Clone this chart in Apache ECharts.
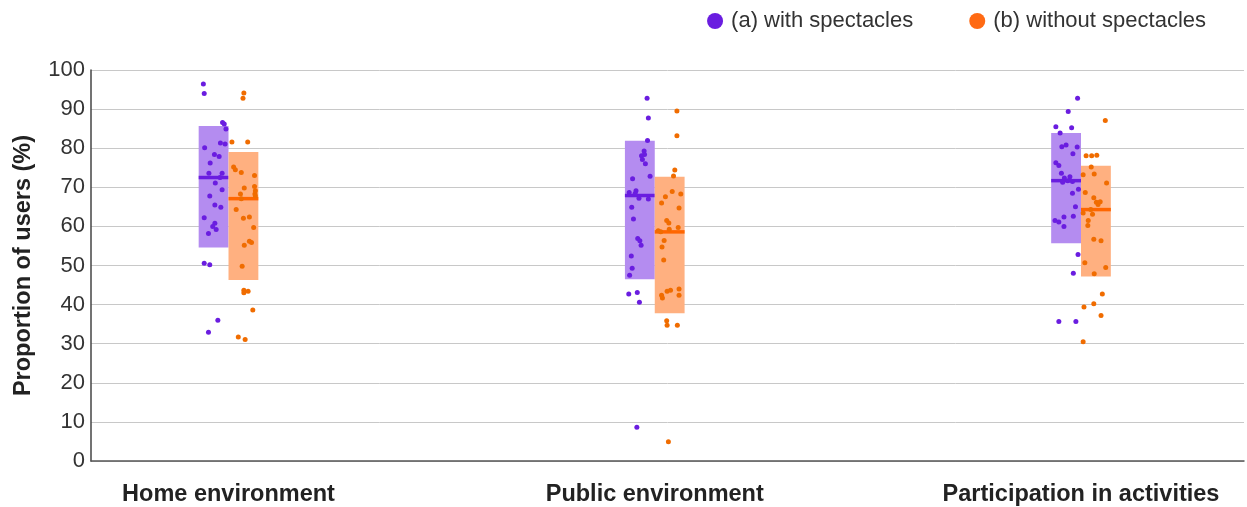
<!DOCTYPE html>
<html>
<head>
<meta charset="utf-8">
<script src="https://cdn.jsdelivr.net/npm/echarts@6/dist/echarts.min.js"></script>
<style>
html,body{margin:0;padding:0;background:#fff;}
#chart{width:1247px;height:507px;}
</style>
</head>
<body>
<div id="chart"></div>
<script>
const categories = ['Home environment', 'Public environment', 'Participation in activities'];
const seriesNames = ['(a) with spectacles', '(b) without spectacles'];
const yTicks = [0, 10, 20, 30, 40, 50, 60, 70, 80, 90, 100];

// Box summaries per category: [low, high, median]
const withLow = [54.6, 46.5, 55.7];
const withHigh = [85.7, 81.9, 83.9];
const withMedian = [72.5, 67.9, 71.7];
const withoutLow = [46.3, 37.8, 47.2];
const withoutHigh = [79.0, 72.7, 75.5];
const withoutMedian = [67.1, 58.6, 64.3];

// Individual points: [horizontal jitter (category units), value %]
const withHome = [[-0.059,96.4],[-0.057,94.0],[-0.014,86.6],[-0.010,86.2],[-0.006,84.9],[-0.019,81.3],[-0.008,81.1],[-0.056,80.1],[-0.033,78.4],[-0.022,77.9],[-0.043,76.2],[-0.046,73.6],[-0.015,73.6],[-0.020,72.5],[-0.031,71.1],[-0.015,69.4],[-0.044,67.8],[-0.032,65.5],[-0.018,64.9],[-0.057,62.2],[-0.032,60.8],[-0.037,60.0],[-0.029,59.2],[-0.047,58.2],[-0.057,50.6],[-0.044,50.2],[-0.025,36.0],[-0.047,32.9]];
const withoutHome = [[0.036,94.1],[0.034,92.8],[0.008,81.6],[0.045,81.6],[0.012,75.2],[0.016,74.5],[0.030,73.8],[0.061,73.0],[0.061,70.2],[0.037,69.8],[0.063,69.1],[0.062,68.3],[0.028,68.3],[0.063,67.8],[0.030,67.1],[0.018,64.3],[0.035,62.1],[0.049,62.4],[0.059,59.7],[0.049,56.2],[0.054,55.9],[0.037,55.2],[0.032,49.8],[0.036,43.7],[0.046,43.4],[0.036,43.0],[0.057,38.6],[0.023,31.7],[0.039,31.1]];
const withPublic = [[-0.018,92.8],[-0.015,87.7],[-0.017,82.0],[-0.025,79.3],[-0.024,78.4],[-0.031,78.1],[-0.029,77.1],[-0.022,76.0],[-0.011,72.8],[-0.052,72.2],[-0.044,69.1],[-0.060,68.7],[-0.046,68.4],[-0.037,67.2],[-0.015,67.0],[-0.054,64.9],[-0.050,61.9],[-0.040,56.9],[-0.035,56.3],[-0.032,55.2],[-0.055,52.4],[-0.053,49.3],[-0.059,47.5],[-0.061,42.7],[-0.041,43.1],[-0.036,40.6],[-0.042,8.6]];
const withoutPublic = [[0.052,89.5],[0.052,83.2],[0.047,74.4],[0.044,72.9],[0.041,68.9],[0.061,68.3],[0.025,67.6],[0.016,66.0],[0.057,64.7],[0.028,61.5],[0.033,60.9],[0.055,59.7],[0.034,59.3],[0.008,58.9],[0.014,58.6],[0.022,56.4],[0.017,54.7],[0.021,51.4],[0.057,44.0],[0.037,43.7],[0.029,43.4],[0.016,42.4],[0.057,42.4],[0.018,41.7],[0.028,35.9],[0.029,34.7],[0.053,34.7],[0.032,4.9]];
const withParticipation = [[-0.008,92.8],[-0.030,89.4],[-0.059,85.5],[-0.022,85.2],[-0.049,83.9],[-0.045,80.4],[-0.035,80.8],[-0.009,80.3],[-0.019,78.6],[-0.059,76.3],[-0.052,75.6],[-0.046,73.6],[-0.039,72.4],[-0.026,72.7],[-0.031,71.7],[-0.043,71.3],[-0.020,71.5],[-0.006,69.5],[-0.020,68.5],[-0.013,65.0],[-0.018,62.6],[-0.040,62.4],[-0.061,61.5],[-0.052,61.1],[-0.040,60.0],[-0.007,52.8],[-0.018,48.0],[-0.052,35.7],[-0.012,35.7]];
const withoutParticipation = [[0.057,87.1],[0.012,78.1],[0.025,78.1],[0.037,78.2],[0.024,75.2],[0.005,73.2],[0.031,73.4],[0.060,71.1],[0.010,68.7],[0.030,67.3],[0.036,66.2],[0.045,66.3],[0.040,65.6],[0.023,64.3],[0.005,63.4],[0.027,63.1],[0.017,61.5],[0.016,60.2],[0.030,56.7],[0.047,56.3],[0.009,50.7],[0.058,49.5],[0.031,47.9],[0.050,42.7],[0.030,40.2],[0.007,39.4],[0.047,37.2],[0.005,30.5]];

const PURPLE = '#6a1de0';
const PURPLE_BOX = '#b48cf0';
const ORANGE = '#f06c00';
const ORANGE_LEG = '#ff6a13';
const ORANGE_BOX = '#ffb080';
const ORANGE_MED = '#ff6600';
const BOX_W = 0.07;

function pts(groups) {
  const out = [];
  groups.forEach((g, ci) => g.forEach(p => out.push([ci + 1 + p[0], p[1]])));
  return out;
}
function boxes(low, high, med) {
  return categories.map((c, i) => [i + 1, low[i], high[i], med[i]]);
}
function boxRender(side, fill, medColor) {
  return function (params, api) {
    const c = api.value(0);
    const x0 = side < 0 ? c - BOX_W : c;
    const x1 = side < 0 ? c : c + BOX_W;
    const tl = api.coord([x0, api.value(2)]);
    const br = api.coord([x1, api.value(1)]);
    const m0 = api.coord([x0, api.value(3)]);
    const m1 = api.coord([x1, api.value(3)]);
    return {
      type: 'group',
      children: [
        { type: 'rect', shape: { x: tl[0], y: tl[1], width: br[0] - tl[0], height: br[1] - tl[1] }, style: { fill: fill } },
        { type: 'line', shape: { x1: m0[0], y1: m0[1], x2: m1[0], y2: m1[1] }, style: { stroke: medColor, lineWidth: 3.5 } }
      ]
    };
  };
}

const chart = echarts.init(document.getElementById('chart'), null, { renderer: 'canvas' });
chart.setOption({
  animation: false,
  textStyle: { fontFamily: 'Liberation Sans, Arial, sans-serif' },
  legend: {
    top: 5, right: 36,
    itemWidth: 16, itemHeight: 16, itemGap: 56,
    icon: 'circle',
    textStyle: { fontSize: 22, color: '#333', padding: [0, 0, 0, 3] },
    data: [
      { name: seriesNames[0], itemStyle: { color: PURPLE } },
      { name: seriesNames[1], itemStyle: { color: ORANGE_LEG } }
    ]
  },
  grid: { left: 91, right: 3, top: 70, bottom: 45.5, containLabel: false },
  xAxis: {
    type: 'value', min: 0.6774, max: 3.3824,
    splitLine: { show: false },
    axisTick: { show: false },
    axisLine: { show: true, lineStyle: { color: '#555', width: 1.5 } },
    axisLabel: {
      customValues: [1, 2, 3],
      formatter: v => categories[Math.round(v) - 1] || '',
      fontSize: 23.5, fontWeight: 'bold', color: '#222', margin: 22
    }
  },
  yAxis: {
    type: 'value', min: 0, max: 100, interval: 10,
    name: 'Proportion of users (%)', nameLocation: 'middle', nameGap: 55,
    nameTextStyle: { fontSize: 23.5, fontWeight: 'bold', color: '#222' },
    axisLine: { show: true, lineStyle: { color: '#444', width: 1.5 } },
    axisTick: { show: false },
    axisLabel: { fontSize: 22, color: '#333', margin: 6, formatter: v => yTicks.includes(v) ? String(v) : '' },
    splitLine: { lineStyle: { color: '#c8c8c8', width: 1 } }
  },
  series: [
    { name: seriesNames[0], type: 'scatter', z: 5, symbolSize: 5, itemStyle: { color: PURPLE, opacity: 1 },
      data: pts([withHome, withPublic, withParticipation]) },
    { name: seriesNames[1], type: 'scatter', z: 5, symbolSize: 5, itemStyle: { color: ORANGE, opacity: 1 },
      data: pts([withoutHome, withoutPublic, withoutParticipation]) },
    { name: seriesNames[0], type: 'custom', z: 2, renderItem: boxRender(-1, PURPLE_BOX, PURPLE),
      data: boxes(withLow, withHigh, withMedian) },
    { name: seriesNames[1], type: 'custom', z: 2, renderItem: boxRender(1, ORANGE_BOX, ORANGE_MED),
      data: boxes(withoutLow, withoutHigh, withoutMedian) }
  ]
});
</script>
</body>
</html>
